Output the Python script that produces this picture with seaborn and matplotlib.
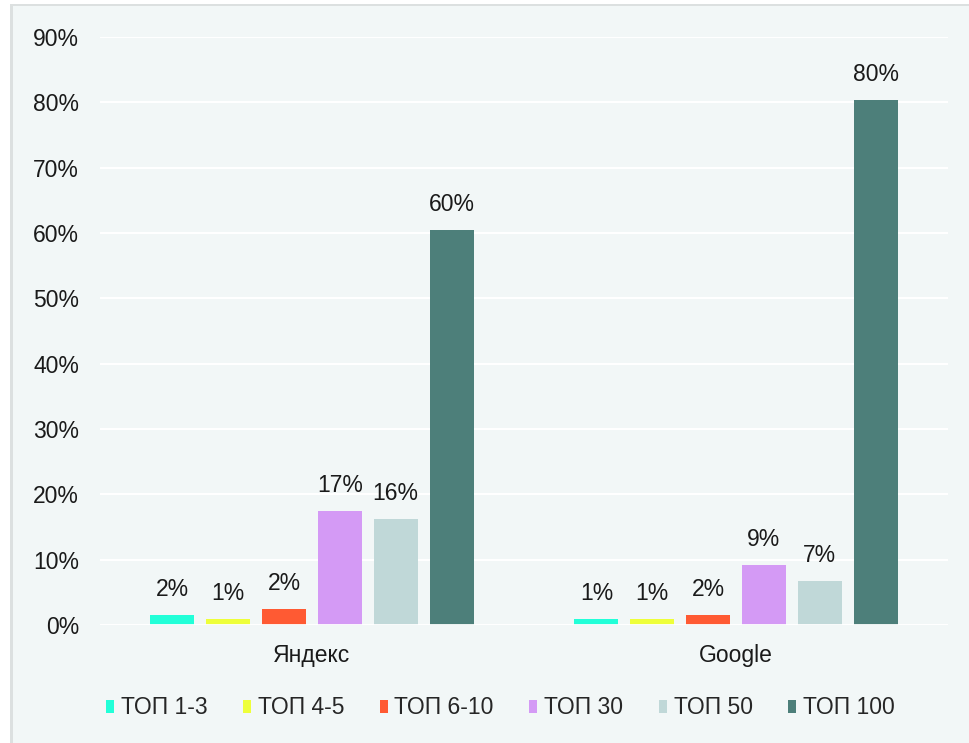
import pandas as pd
import seaborn as sns
import matplotlib.pyplot as plt
from matplotlib.patches import Rectangle

# данные
engines = ['Яндекс', 'Google']
tops = ['ТОП 1-3', 'ТОП 4-5', 'ТОП 6-10', 'ТОП 30', 'ТОП 50', 'ТОП 100']
yandex = [0.016, 0.009, 0.024, 0.174, 0.162, 0.604]
google = [0.009, 0.009, 0.016, 0.092, 0.067, 0.804]
colors = ['#22FFD8', '#EEFF3A', '#FF5A33', '#D49AF5', '#C0D8D8', '#4D7F7A']
yticks = [i / 10 for i in range(10)]

rows = []
for eng, vals in zip(engines, [yandex, google]):
    for t, v in zip(tops, vals):
        rows.append({'engine': eng, 'top': t, 'share': v})
df = pd.DataFrame(rows)

sns.set_style('white')
plt.rcParams['font.family'] = ['Liberation Sans', 'DejaVu Sans']
fs = 16.5

fig = plt.figure(figsize=(9.69, 7.43), dpi=100)
fig.patch.set_facecolor('white')
# панель с тенью
fig.patches.append(Rectangle((10 / 969, 0.0), 1.0, 1 - 4 / 743, transform=fig.transFigure,
                             facecolor='#DCE0E0', edgecolor='none', zorder=-3))
fig.patches.append(Rectangle((13 / 969, 0.0), 1.0, 1 - 6 / 743, transform=fig.transFigure,
                             facecolor='#F2F7F7', edgecolor='none', zorder=-2))

ax = fig.add_axes([100 / 969, 1 - 625 / 743, 848 / 969, 588 / 743])
ax.set_facecolor('none')

sns.barplot(data=df, x='engine', y='share', hue='top', order=engines, hue_order=tops,
            palette=colors, width=0.79, gap=0.21, saturation=1, linewidth=0,
            ax=ax, zorder=3)

for c in ax.containers:
    ax.bar_label(c, labels=[f'{v * 100:.0f}%' for v in c.datavalues],
                 padding=10, fontsize=fs, color='#1a1a1a')

ax.set_ylim(0, 0.9)
ax.set_yticks(yticks)
ax.set_yticklabels([f'{int(round(t * 100))}%' for t in yticks], fontsize=fs, color='#1a1a1a')
ax.tick_params(axis='y', length=0, pad=15)
ax.tick_params(axis='x', length=0, pad=14, labelsize=fs, labelcolor='#1a1a1a')
ax.grid(axis='y', color='white', linewidth=1.5, zorder=0)
ax.set_axisbelow(True)
for s in ax.spines.values():
    s.set_visible(False)
ax.axhline(0, color='white', linewidth=2, zorder=4)
ax.set_xlabel('')
ax.set_ylabel('')

ax.legend(loc='upper center', bbox_to_anchor=(0.472, -0.086), ncol=6, frameon=False,
          fontsize=fs, handlelength=0.35, handleheight=0.5, handletextpad=0.3,
          columnspacing=1.55)

fig.savefig('out.png', dpi=100, facecolor=fig.get_facecolor())
